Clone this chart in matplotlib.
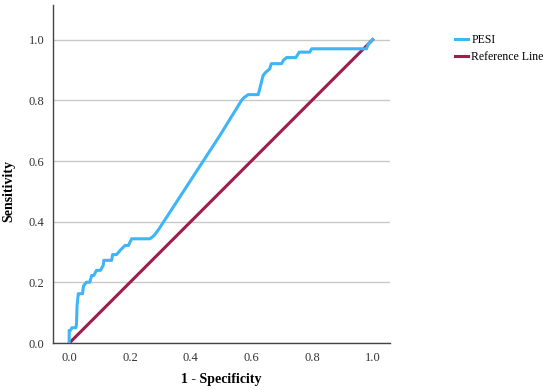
import matplotlib.pyplot as plt

# ROC curve for PESI
fpr = [0.000, 0.000, 0.004, 0.009, 0.022, 0.024, 0.026, 0.030, 0.033, 0.044, 0.046,
       0.048, 0.057, 0.068, 0.074, 0.081, 0.090, 0.092, 0.103, 0.112, 0.114, 0.140,
       0.143, 0.156, 0.163, 0.169, 0.184, 0.195, 0.206, 0.266, 0.280, 0.295,
       0.497, 0.568, 0.576, 0.590, 0.623, 0.639, 0.648, 0.661, 0.666, 0.700, 0.706,
       0.716, 0.747, 0.758, 0.793, 0.799, 0.980, 0.985, 1.000]
tpr = [0.000, 0.042, 0.042, 0.051, 0.051, 0.062, 0.124, 0.163, 0.163, 0.163, 0.180,
       0.190, 0.201, 0.201, 0.223, 0.223, 0.240, 0.240, 0.240, 0.256, 0.273, 0.273,
       0.292, 0.292, 0.300, 0.307, 0.322, 0.322, 0.344, 0.344, 0.355, 0.375,
       0.685, 0.800, 0.809, 0.819, 0.819, 0.882, 0.893, 0.904, 0.921, 0.921, 0.932,
       0.941, 0.941, 0.959, 0.959, 0.970, 0.970, 0.985, 1.000]
ref_x = [0.0, 1.0]
ref_y = [0.0, 1.0]

plt.rcParams['font.family'] = ['Liberation Serif', 'DejaVu Serif']

fig = plt.figure(figsize=(5.5, 3.9), dpi=100)
ax = fig.add_axes([0.096, 0.12, 0.613, 0.867])

ax.plot(fpr, tpr, color='#3DB5F7', lw=2.2, label='PESI', zorder=3)
ax.plot(ref_x, ref_y, color='#9E1C4E', lw=2.2, label='Reference Line', zorder=2)

ax.set_xlim(-0.054, 1.057)
ax.set_ylim(0, 1.114)
ax.set_xticks([0.0, 0.2, 0.4, 0.6, 0.8, 1.0])
ax.set_yticks([0.0, 0.2, 0.4, 0.6, 0.8, 1.0])
ax.set_xticklabels(['0.0', '0.2', '0.4', '0.6', '0.8', '1.0'])
ax.set_yticklabels(['0.0', '0.2', '0.4', '0.6', '0.8', '1.0'])
ax.tick_params(length=0, labelsize=9, colors='#333333', pad=6)
ax.yaxis.grid(True, color='#C8C8C8', lw=1)
ax.set_axisbelow(True)
for side in ['top', 'right']:
    ax.spines[side].set_visible(False)
for side in ['left', 'bottom']:
    ax.spines[side].set_color('#444444')
    ax.spines[side].set_linewidth(1)

# axis titles placed by hand so they stay inside the figure
fig.text(0.402, 0.027, '1 - Specificity', fontsize=10, fontweight='bold',
         ha='center', va='center')
fig.text(0.016, 0.51, 'Sensitivity', fontsize=10, fontweight='bold',
         ha='center', va='center', rotation=90)

fig.legend(loc='upper left', bbox_to_anchor=(0.818, 0.925), frameon=False,
           fontsize=8.5, handlelength=1.1, handletextpad=0.3, labelspacing=0.4,
           borderaxespad=0)

fig.savefig('out.png', dpi=100)
